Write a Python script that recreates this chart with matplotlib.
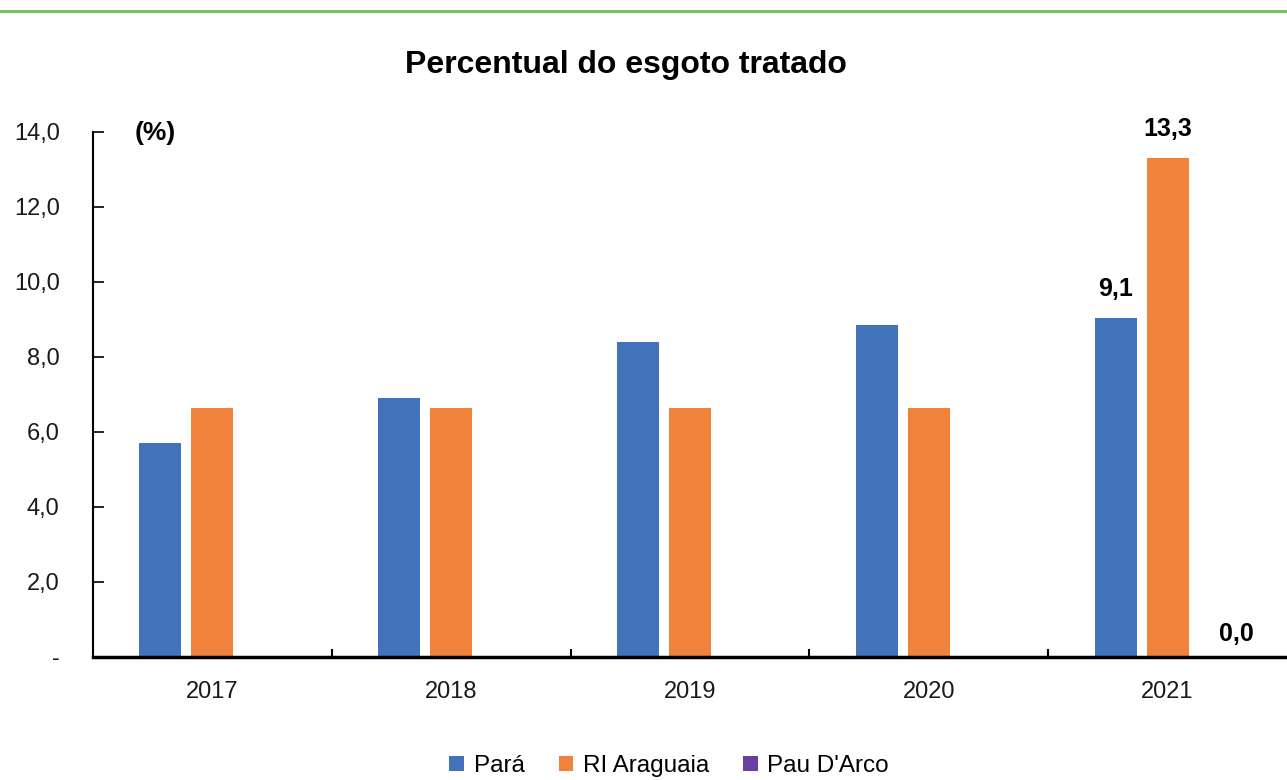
import matplotlib
matplotlib.use("Agg")
import matplotlib.pyplot as plt
from matplotlib.lines import Line2D
from matplotlib import font_manager
import numpy as np

years = ["2017", "2018", "2019", "2020", "2021"]
para = [5.7, 6.9, 8.4, 8.85, 9.05]
ri_araguaia = [6.65, 6.65, 6.65, 6.65, 13.3]
pau_darco = [0.0, 0.0, 0.0, 0.0, 0.0]
series_names = ["Pará", "RI Araguaia", "Pau D'Arco"]
yticks = [0, 2, 4, 6, 8, 10, 12, 14]
ytick_labels = ["-", "2,0", "4,0", "6,0", "8,0", "10,0", "12,0", "14,0"]

colors = ["#4273BA", "#F0823C", "#6B3FA0"]

names = {f.name for f in font_manager.fontManager.ttflist}
narrow = "Liberation Sans Narrow" if "Liberation Sans Narrow" in names else "Liberation Sans"

plt.rcParams['font.family'] = ['Liberation Sans', 'DejaVu Sans']

fig = plt.figure(figsize=(12.87, 7.80), dpi=100)
ax = fig.add_axes([0.0723, 0.1577, 1.0 - 0.0723, 0.6731])

x = np.arange(len(years))
off = 0.218
w = 0.176
data = [para, ri_araguaia, pau_darco]
for i, (vals, c, n) in enumerate(zip(data, colors, series_names)):
    ax.bar(x + (i - 1) * off, vals, width=w, color=c, label=n, zorder=2)

ax.set_xlim(-0.5, 4.5)
ax.set_ylim(0, 14)
ax.set_yticks(yticks)
ax.set_yticklabels(ytick_labels, fontsize=17, color="#1a1a1a")
ax.set_xticks(x)
ax.set_xticklabels(years, fontsize=17, color="#1a1a1a")
ax.tick_params(axis='y', direction='in', length=8, width=1.2, pad=24)
ax.tick_params(axis='x', length=0, pad=17)
ax.set_xticks(np.arange(0.5, 4.5, 1.0), minor=True)
ax.tick_params(axis='x', which='minor', direction='in', length=6, width=1.5)
for s in ['top', 'right']:
    ax.spines[s].set_visible(False)
ax.spines['left'].set_linewidth(1.5)
ax.spines['bottom'].set_linewidth(2.5)

# data labels for 2021
ax.text(x[4] - off, para[4] + 0.45, "9,1", ha='center', va='bottom', fontsize=18, fontweight='bold')
ax.text(x[4], ri_araguaia[4] + 0.45, "13,3", ha='center', va='bottom', fontsize=18, fontweight='bold')
ax.text(x[4] + off + 0.07, pau_darco[4] + 0.3, "0,0", ha='center', va='bottom', fontsize=18, fontweight='bold')

ax.text(0.035, 0.998, "(%)", transform=ax.transAxes, ha='left', va='center', fontsize=19, fontweight='bold')

fig.text(0.486, 0.917, "Percentual do esgoto tratado", ha='center', va='center',
         fontsize=23, fontweight='bold', family=[narrow, 'DejaVu Sans'])

fig.add_artist(Line2D([0.0, 1.0], [1 - 11/780, 1 - 11/780], color="#6BBF59", linewidth=2.0))

leg = fig.legend(loc='center', bbox_to_anchor=(0.52, 0.018), ncol=3, frameon=False,
                 prop={'family': narrow, 'size': 17.5}, handlelength=0.6, handleheight=0.6,
                 columnspacing=1.4, handletextpad=0.4)

fig.savefig("out.png", dpi=100)
